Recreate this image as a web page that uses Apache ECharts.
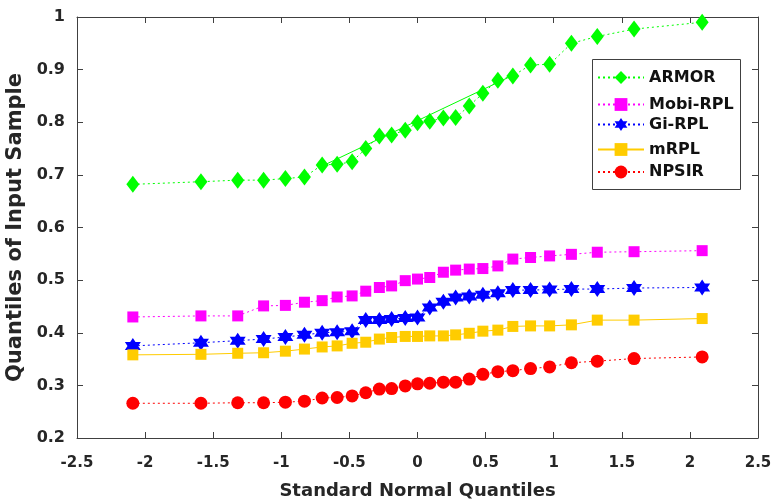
<!DOCTYPE html>
<html>
<head>
<meta charset="utf-8">
<script src="https://cdn.jsdelivr.net/npm/echarts@6/dist/echarts.min.js"></script>
<style>html,body{margin:0;padding:0;background:#fff}#c{width:773px;height:502px}</style>
</head>
<body>
<div id="c"></div>
<script>
// Standard normal quantiles (x positions)
const quantileX = [-2.09, -1.59, -1.32, -1.13, -0.97, -0.83, -0.70, -0.59, -0.48, -0.38, -0.28, -0.19, -0.09, 0.00, 0.09, 0.19, 0.28, 0.38, 0.48, 0.59, 0.70, 0.83, 0.97, 1.13, 1.32, 1.59, 2.09];
const seriesNames = ['ARMOR', 'Mobi-RPL', 'Gi-RPL', 'mRPL', 'NPSIR'];
const armorY = [0.682, 0.687, 0.690, 0.690, 0.693, 0.696, 0.719, 0.720, 0.725, 0.750, 0.774, 0.776, 0.785, 0.799, 0.802, 0.808, 0.809, 0.831, 0.855, 0.880, 0.888, 0.909, 0.910, 0.950, 0.963, 0.977, 0.990];
const mobiY = [0.430, 0.432, 0.432, 0.451, 0.452, 0.458, 0.461, 0.468, 0.470, 0.479, 0.486, 0.489, 0.499, 0.502, 0.505, 0.515, 0.519, 0.521, 0.522, 0.527, 0.540, 0.543, 0.546, 0.549, 0.553, 0.554, 0.556];
const giY = [0.375, 0.381, 0.385, 0.388, 0.392, 0.396, 0.400, 0.401, 0.403, 0.424, 0.424, 0.426, 0.428, 0.429, 0.448, 0.459, 0.467, 0.469, 0.472, 0.475, 0.481, 0.481, 0.482, 0.483, 0.483, 0.485, 0.486];
const mrplY = [0.358, 0.359, 0.361, 0.362, 0.365, 0.369, 0.373, 0.375, 0.380, 0.382, 0.388, 0.391, 0.393, 0.393, 0.394, 0.394, 0.396, 0.399, 0.403, 0.405, 0.412, 0.413, 0.413, 0.415, 0.424, 0.424, 0.427];
const npsirY = [0.266, 0.266, 0.267, 0.267, 0.268, 0.270, 0.276, 0.277, 0.280, 0.286, 0.293, 0.294, 0.299, 0.303, 0.304, 0.306, 0.306, 0.312, 0.321, 0.326, 0.328, 0.332, 0.335, 0.343, 0.346, 0.351, 0.354];
// ARMOR reference line through quartiles
const armorFitX = [-0.674, 0.674];
const armorFitY = [0.720, 0.886];
// axis ticks
const xMin = -2.5, xMax = 2.5, xStep = 0.5;
const yMin = 0.2, yMax = 1.0, yStep = 0.1;

const pair = (xs, ys) => xs.map((x, i) => [x, ys[i]]);
const hexagram = 'path://M50,0L64.43,25L93.3,25L78.87,50L93.3,75L64.43,75L50,100L35.57,75L6.7,75L21.13,50L6.7,25L35.57,25Z';
const axisCol = '#404040';
const txtCol = '#262626';
const tickFont = { color: txtCol, fontFamily: 'DejaVu Sans', fontWeight: 'bold' };

const styles = [
  { color: '#00ff00', symbol: 'diamond', size: [13, 17], line: 'dotted', data: armorY },
  { color: '#ff00ff', symbol: 'rect', size: 11, line: 'dotted', data: mobiY },
  { color: '#0000ff', symbol: hexagram, size: 16, line: 'dotted', data: giY },
  { color: '#ffcc00', symbol: 'rect', size: 11, line: 'solid', data: mrplY },
  { color: '#ff0000', symbol: 'circle', size: 13, line: 'dotted', data: npsirY }
];

const series = [{
  type: 'line', name: 'ARMOR fit', data: pair(armorFitX, armorFitY), showSymbol: false,
  lineStyle: { color: '#00ff00', width: 1, type: 'solid' }, z: 1, silent: true
}];
styles.forEach((s, i) => {
  series.push({
    type: 'line', name: seriesNames[i], data: pair(quantileX, s.data),
    symbol: s.symbol, symbolSize: s.size, showAllSymbol: true,
    itemStyle: { color: s.color },
    lineStyle: { color: s.color, width: 1, type: s.line === 'dotted' ? [2, 3] : 'solid' },
    z: 2 + i
  });
});

const legendY = [77.5, 104.5, 124.5, 149.5, 172];
const legends = seriesNames.map((n, i) => ({
  data: [n], left: 597, top: legendY[i] - 8, itemWidth: 46, itemHeight: 16,
  textStyle: { fontFamily: 'DejaVu Sans', fontWeight: 'bold', fontSize: 16, color: '#111' },
  selectedMode: false, padding: 0
}));

const axisLineOpt = { show: true, onZero: false, lineStyle: { color: axisCol } };
const tickOpt = { show: true, inside: true, length: 6, lineStyle: { color: axisCol } };

const chart = echarts.init(document.getElementById('c'), null, { renderer: 'canvas' });
chart.setOption({
  animation: false,
  backgroundColor: '#fff',
  grid: { left: 77, right: 15, top: 17, bottom: 64, containLabel: false, outerBoundsMode: 'none' },
  legend: legends,
  graphic: [{
    type: 'rect', z: 3, shape: { x: 592.5, y: 59.5, width: 148, height: 130 },
    style: { fill: '#fff', stroke: axisCol, lineWidth: 1 }
  }],
  xAxis: [{
    type: 'value', min: xMin, max: xMax, interval: xStep, position: 'bottom',
    name: 'Standard Normal Quantiles', nameLocation: 'middle', nameGap: 44,
    nameTextStyle: { color: txtCol, fontFamily: 'DejaVu Sans', fontWeight: 'bold', fontSize: 18 },
    axisLine: axisLineOpt, axisTick: tickOpt,
    axisLabel: Object.assign({ fontSize: 15, margin: 18 }, tickFont),
    splitLine: { show: false }
  }, {
    type: 'value', min: xMin, max: xMax, interval: xStep, position: 'top',
    axisLine: axisLineOpt, axisTick: tickOpt,
    axisLabel: { show: false }, splitLine: { show: false }
  }],
  yAxis: [{
    type: 'value', min: yMin, max: yMax, interval: yStep, position: 'left',
    name: 'Quantiles of Input Sample', nameLocation: 'middle', nameGap: 40,
    nameTextStyle: { color: txtCol, fontFamily: 'DejaVu Sans', fontWeight: 'bold', fontSize: 21 },
    axisLine: axisLineOpt, axisTick: tickOpt,
    axisLabel: Object.assign({ fontSize: 16, margin: 12 }, tickFont),
    splitLine: { show: false }
  }, {
    type: 'value', min: yMin, max: yMax, interval: yStep, position: 'right',
    axisLine: axisLineOpt, axisTick: tickOpt,
    axisLabel: { show: false }, splitLine: { show: false }
  }],
  series: series
});
</script>
</body>
</html>
